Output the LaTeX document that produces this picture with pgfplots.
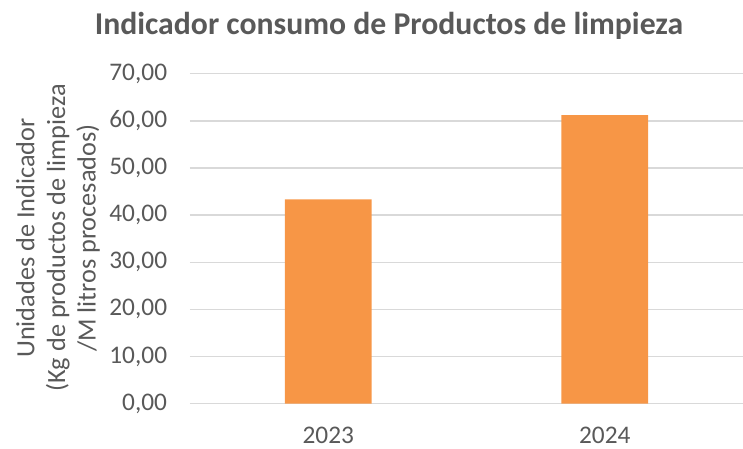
\documentclass[border=0pt]{standalone}
\usepackage{pgfplots}
\pgfplotsset{compat=1.18}
\usepackage{fontspec}
\setmainfont{Carlito}
\definecolor{txt}{HTML}{595959}
\definecolor{grd}{HTML}{D9D9D9}
\definecolor{bar}{HTML}{F79646}
\begin{document}
\begin{tikzpicture}
\path[use as bounding box] (0pt,0pt) rectangle (557.25pt,336.75pt);
\begin{axis}[
  at={(142.5pt,34pt)}, anchor=south west,
  scale only axis,
  width=414.75pt, height=247.5pt,
  xmin=-0.5, xmax=1.5,
  ymin=0, ymax=70,
  ytick={0,10,...,70},
  xtick={0,1},
  xticklabels={2023,2024},
  axis line style={draw=none},
  major tick length=0pt,
  ymajorgrids,
  grid style={grd, line width=1.1pt},
  /pgf/number format/assume math mode=true,
  yticklabel={\pgfmathprintnumber[fixed,fixed zerofill,precision=2,use comma]{\tick}},
  tick label style={font=\fontsize{19pt}{22pt}\selectfont, text=txt},
  yticklabel style={anchor=east, inner sep=0pt, xshift=-17pt},
  xticklabel style={anchor=center, inner sep=0pt, yshift=-23.5pt},
  clip=false,
]
\addplot[ybar, bar width=65pt, fill=bar, draw=none] coordinates {(0,43.35) (1,61.2)};
\end{axis}
\node[text=txt, font=\fontsize{23.8pt}{28pt}\selectfont\bfseries, inner sep=0pt] at (291.75pt,317.25pt) {Indicador consumo de Productos de limpieza};
\node[text=txt, font=\fontsize{19.7pt}{23pt}\selectfont, rotate=90, align=center, inner sep=0pt] at (43.5pt,158.25pt) {Unidades de Indicador\\(Kg de productos de limpieza\\/M litros procesados)};
\end{tikzpicture}
\end{document}
